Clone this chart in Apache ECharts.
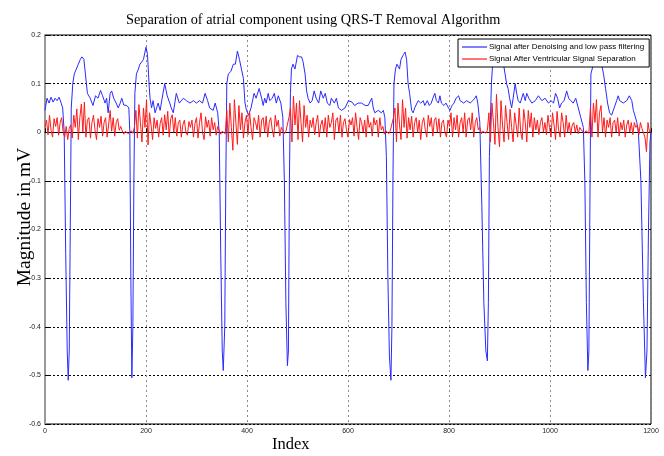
<!DOCTYPE html>
<html>
<head>
<meta charset="utf-8">
<script src="https://cdn.jsdelivr.net/npm/echarts@6/dist/echarts.min.js"></script>
<style>
  html, body { margin: 0; padding: 0; background: #fff; }
  #chart { width: 664px; height: 456px; }
</style>
</head>
<body>
<div id="chart"></div>
<script>
// blue: [index, mV]
var denoised = [
  [0,0.045],[4,0.07],[8,0.06],[12,0.072],[16,0.062],[20,0.07],[24,0.065],[28,0.072],[32,0.06],[35,0.05],
  [38,0.0],[41,-0.25],[44,-0.45],[46,-0.51],[48,-0.45],[50,-0.2],[52,0.05],[55,0.1],[58,0.12],[62,0.13],
  [66,0.14],[70,0.15],[73,0.155],[77,0.15],[80,0.12],[84,0.08],[89,0.071],[95,0.055],[100,0.075],[105,0.07],
  [110,0.086],[114,0.075],[119,0.06],[122,0.07],[125,0.04],[129,0.08],[132,0.085],[136,0.07],[141,0.06],[145,0.05],
  [149,0.06],[152,0.07],[156,0.056],[162,0.055],[166,0.05],[168,0.0],[170,-0.3],[172,-0.505],[174,-0.4],[176,-0.1],
  [178,0.08],[181,0.12],[185,0.13],[188,0.14],[192,0.145],[195,0.15],[198,0.165],[200,0.175],[203,0.16],[206,0.1],
  [208,0.07],[211,0.05],[214,0.065],[218,0.04],[224,0.06],[228,0.045],[232,0.07],[237,0.1],[242,0.075],[247,0.06],
  [250,0.05],[254,0.04],[260,0.08],[266,0.06],[274,0.07],[280,0.065],[287,0.06],[294,0.065],[300,0.06],[306,0.065],
  [312,0.06],[317,0.08],[322,0.065],[326,0.05],[333,0.045],[337,0.06],[342,0.04],[345,0.0],[348,-0.25],[351,-0.45],
  [353,-0.49],[356,-0.4],[358,-0.1],[360,0.1],[363,0.12],[368,0.125],[373,0.14],[377,0.14],[381,0.167],[385,0.15],
  [388,0.15],[393,0.11],[396,0.06],[399,0.045],[403,0.035],[408,0.05],[414,0.08],[418,0.07],[424,0.09],[429,0.07],
  [432,0.055],[435,0.07],[438,0.06],[442,0.08],[445,0.065],[450,0.07],[454,0.08],[458,0.06],[462,0.075],[467,0.06],
  [471,0.03],[474,-0.1],[477,-0.35],[480,-0.48],[482,-0.45],[484,-0.1],[486,0.08],[488,0.13],[491,0.14],[495,0.13],
  [500,0.158],[504,0.155],[508,0.155],[511,0.145],[515,0.12],[518,0.085],[521,0.07],[525,0.06],[529,0.065],[533,0.085],
  [537,0.07],[542,0.06],[546,0.085],[551,0.07],[555,0.08],[559,0.06],[564,0.055],[567,0.07],[573,0.06],[577,0.07],
  [581,0.05],[587,0.045],[594,0.05],[601,0.065],[608,0.062],[613,0.055],[620,0.06],[627,0.06],[634,0.055],[640,0.055],
  [647,0.07],[650,0.05],[653,0.04],[660,0.045],[666,0.04],[670,0.045],[673,0.03],[676,-0.05],[679,-0.3],[682,-0.46],
  [685,-0.51],[687,-0.4],[689,-0.1],[691,0.1],[694,0.13],[697,0.14],[702,0.13],[705,0.15],[710,0.16],[713,0.165],
  [716,0.15],[719,0.1],[722,0.08],[726,0.045],[729,0.04],[732,0.05],[739,0.065],[744,0.06],[749,0.065],[752,0.055],
  [757,0.065],[761,0.055],[765,0.06],[768,0.07],[772,0.08],[775,0.065],[779,0.06],[782,0.075],[785,0.06],[790,0.055],
  [794,0.06],[799,0.05],[802,0.045],[806,0.055],[810,0.06],[814,0.07],[819,0.075],[822,0.065],[829,0.06],[835,0.065],
  [842,0.06],[847,0.065],[851,0.07],[854,0.075],[857,0.06],[861,0.02],[865,-0.15],[869,-0.35],[873,-0.45],[876,-0.47],
  [878,-0.35],[880,-0.05],[884,0.1],[887,0.15],[891,0.16],[896,0.165],[900,0.16],[904,0.15],[908,0.14],[911,0.12],
  [914,0.1],[917,0.09],[920,0.07],[924,0.05],[927,0.07],[931,0.1],[934,0.08],[937,0.065],[941,0.06],[947,0.08],
  [951,0.065],[954,0.08],[958,0.07],[964,0.06],[971,0.065],[977,0.075],[984,0.065],[990,0.07],[997,0.06],[1002,0.065],
  [1007,0.06],[1011,0.08],[1015,0.07],[1019,0.05],[1023,0.06],[1028,0.065],[1033,0.085],[1037,0.07],[1041,0.065],[1046,0.06],
  [1051,0.07],[1056,0.05],[1061,0.03],[1066,0.01],[1069,-0.1],[1072,-0.35],[1075,-0.49],[1077,-0.45],[1079,-0.15],[1081,0.12],
  [1086,0.14],[1090,0.15],[1095,0.16],[1100,0.15],[1104,0.13],[1106,0.12],[1110,0.09],[1114,0.06],[1118,0.04],[1122,0.035],
  [1127,0.05],[1132,0.065],[1135,0.075],[1138,0.065],[1145,0.06],[1152,0.065],[1157,0.075],[1162,0.065],[1165,0.045],[1168,0.035],
  [1172,0.02],[1175,0.0],[1180,-0.1],[1185,-0.35],[1189,-0.505],[1192,-0.45],[1195,-0.2],[1198,-0.02],[1200,0.0]
];

// red: one value every redStep samples, starting at index 0
var redStep = 3;
var atrial = [
  0.01,0.025,-0.005,0.035,0.004,-0.01,0.028,0.012,0.03,-0.006,
  0.02,0.03,0.0,-0.01,0.012,-0.015,0.008,0.015,-0.012,0.035,
  0.01,0.048,-0.015,0.03,0.058,0.0,0.062,-0.01,0.025,0.03,
  -0.012,0.02,0.035,0.005,-0.015,0.028,0.01,0.033,-0.008,0.02,
  0.03,-0.01,0.015,0.045,0.002,0.03,-0.008,0.02,0.028,0.004,
  0.012,0.003,-0.004,0.002,0.004,-0.003,0.001,0.003,-0.002,0.01,
  0.045,-0.012,0.057,0.02,-0.02,0.05,0.01,0.067,-0.026,0.04,
  0.015,-0.015,0.03,0.008,0.025,-0.01,0.018,0.03,-0.006,0.036,
  0.005,0.043,-0.01,0.028,0.036,0.0,0.03,-0.008,0.02,0.025,
  -0.01,0.015,0.025,0.0,-0.006,0.022,0.01,0.025,-0.01,0.018,
  0.03,-0.012,0.02,0.04,0.0,-0.015,0.032,0.01,0.025,-0.008,
  0.03,0.005,0.02,-0.006,0.012,0.003,-0.004,0.002,0.004,-0.003,
  0.045,-0.02,0.06,0.01,-0.037,0.067,0.02,-0.025,0.055,0.005,
  0.04,-0.012,0.02,0.035,-0.005,0.043,0.01,-0.015,0.03,0.02,
  0.005,0.035,-0.01,0.025,0.03,0.0,0.033,-0.01,0.02,0.03,
  0.005,-0.01,0.035,0.012,0.025,-0.008,0.01,0.003,-0.003,0.002,
  0.004,0.03,0.05,-0.02,0.074,0.015,0.06,-0.015,0.065,0.02,
  -0.02,0.055,0.01,0.035,-0.01,0.025,0.01,0.03,-0.005,0.02,
  0.035,-0.01,0.015,0.025,0.0,0.03,-0.01,0.035,0.01,0.02,
  0.04,-0.015,0.025,0.03,0.0,0.035,-0.01,0.02,0.028,0.005,
  -0.01,0.026,0.015,0.03,-0.008,0.04,0.01,-0.015,0.03,0.02,
  0.0,0.025,-0.01,0.035,0.01,0.02,-0.008,0.03,0.015,0.025,
  -0.01,0.03,0.005,0.012,-0.004,0.003,0.002,-0.003,0.004,0.001,
  0.03,0.05,-0.02,0.06,0.015,-0.015,0.067,0.01,0.05,-0.012,
  0.03,0.005,0.033,-0.01,0.02,0.03,0.0,0.025,-0.015,0.02,
  0.03,0.005,-0.01,0.035,0.012,0.03,-0.008,0.025,0.03,0.0,
  0.028,-0.01,0.02,0.025,0.0,-0.01,0.025,0.012,0.04,-0.01,
  0.03,0.005,0.035,-0.01,0.02,0.03,0.0,0.04,-0.01,0.025,
  0.03,0.005,0.04,-0.01,0.02,0.03,0.005,0.01,-0.003,0.002,
  0.003,-0.002,0.004,0.04,-0.02,0.06,0.02,-0.025,0.078,0.01,
  -0.03,0.065,0.015,-0.02,0.055,0.02,-0.015,0.047,0.01,-0.02,
  0.04,0.015,-0.01,0.05,0.0,-0.015,0.047,0.02,-0.02,0.045,
  0.01,0.04,-0.01,0.03,0.005,0.025,-0.005,0.02,0.03,0.0,
  0.02,-0.005,0.035,0.01,-0.01,0.04,0.015,-0.015,0.043,0.005,
  -0.01,0.04,0.02,-0.01,0.035,0.0,0.02,-0.005,0.015,0.02,
  0.0,0.015,-0.003,0.01,0.005,0.002,-0.002,0.003,0.001,-0.002,
  0.05,-0.01,0.06,0.02,0.067,-0.01,0.04,0.055,0.0,0.03,
  -0.01,0.025,0.01,0.03,-0.01,0.02,0.025,0.0,0.03,-0.008,
  0.02,0.005,0.025,-0.01,0.015,0.025,0.0,0.02,-0.005,0.02,
  0.01,0.015,-0.005,0.02,0.008,0.01,-0.01,-0.04,0.02,0.0,
  0.005
];

var xTicks = { min: 0, max: 1200, interval: 200 };
var yTicks = { min: -0.6, max: 0.2, interval: 0.1 };

var chart = echarts.init(document.getElementById('chart'), null, { renderer: 'canvas' });

var atrialPts = atrial.map(function (v, i) { return [i * redStep, v]; });

var option = {
  animation: false,
  backgroundColor: '#fff',
  title: {
    text: 'Separation of atrial component using QRS-T Removal Algorithm',
    left: 121,
    top: 8,
    textStyle: { fontFamily: 'Liberation Serif', fontWeight: 'normal', fontSize: 14.3, color: '#000' }
  },
  legend: {
    orient: 'vertical',
    left: 458,
    top: 39,
    icon: 'rect',
    itemWidth: 25,
    itemHeight: 1.2,
    itemGap: 4,
    padding: [4, 5, 4, 4],
    backgroundColor: '#fff',
    borderColor: '#000',
    borderWidth: 1,
    borderRadius: 0,
    textStyle: { fontFamily: 'Liberation Sans', fontSize: 8, color: '#000', padding: [0, 0, 0, -3] },
    data: ['Signal after Denoising and low pass filtering', 'Signal After Ventricular Signal Separation']
  },
  grid: {
    left: 45, right: 13, top: 35, bottom: 32,
    show: true, borderColor: '#000', borderWidth: 1
  },
  xAxis: {
    type: 'value',
    min: xTicks.min, max: xTicks.max, interval: xTicks.interval,
    axisLine: { lineStyle: { color: '#000', width: 1 } },
    axisTick: { inside: true, length: 4, lineStyle: { color: '#000' } },
    axisLabel: { fontFamily: 'Liberation Sans', fontSize: 7, color: '#222', margin: 4,
                 formatter: function (v) { return String(v); } },
    splitLine: { show: true, lineStyle: { color: '#8a8a8a', type: [2, 3], width: 1 } }
  },
  yAxis: {
    type: 'value',
    min: yTicks.min, max: yTicks.max, interval: yTicks.interval,
    axisLine: { show: true, lineStyle: { color: '#999', width: 2 } },
    axisTick: { inside: true, length: 4, lineStyle: { color: '#000' } },
    axisLabel: { fontFamily: 'Liberation Sans', fontSize: 7, color: '#222', margin: 4 },
    splitLine: { show: true, lineStyle: { color: '#000', type: [2, 2], width: 1 } }
  },
  graphic: [
    {
      type: 'text', left: 272, top: 436,
      style: { text: 'Index', fontFamily: 'Liberation Serif', fontSize: 16.5, fill: '#000' }
    },
    {
      type: 'text', x: 15, y: 217, rotation: Math.PI / 2,
      style: { text: 'Magnitude in mV', fontFamily: 'Liberation Serif', fontSize: 19.5, fill: '#000',
               align: 'center', verticalAlign: 'top' }
    }
  ],
  series: [
    {
      name: 'Signal after Denoising and low pass filtering',
      type: 'line',
      data: denoised,
      symbol: 'none',
      showSymbol: false,
      lineStyle: { color: '#2a2aff', width: 1 },
      itemStyle: { color: '#2a2aff' }
    },
    {
      name: 'Signal After Ventricular Signal Separation',
      type: 'line',
      data: atrialPts,
      symbol: 'none',
      showSymbol: false,
      lineStyle: { color: '#ff1a1a', width: 1 },
      itemStyle: { color: '#ff1a1a' }
    }
  ]
};

chart.setOption(option);
</script>
</body>
</html>
